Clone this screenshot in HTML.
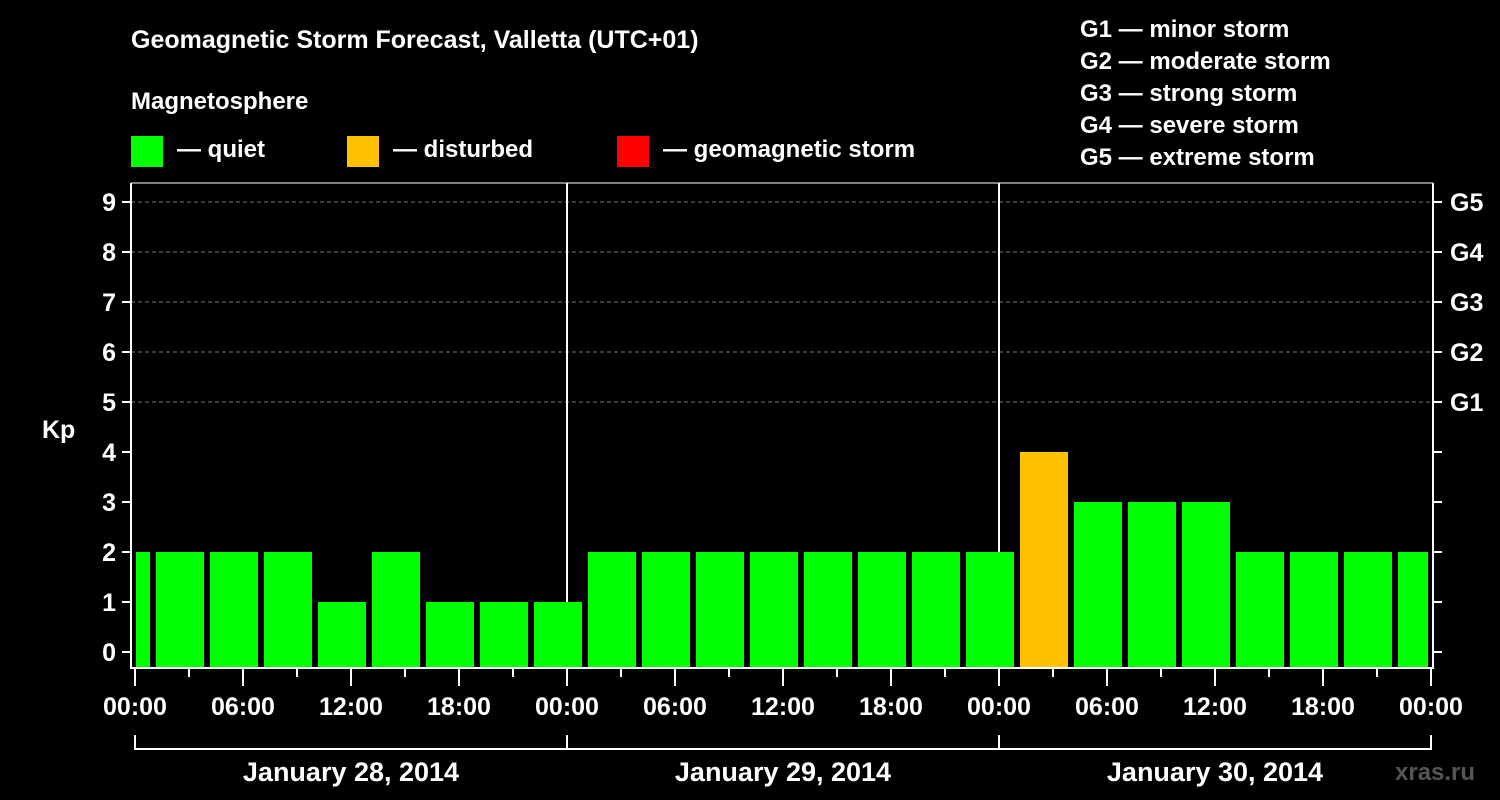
<!DOCTYPE html>
<html><head><meta charset="utf-8"><style>
html,body{margin:0;padding:0;background:#000;}
svg{display:block;font-family:"Liberation Sans",sans-serif;font-weight:bold;}
</style></head><body>
<svg id="chart" width="1500" height="800" viewBox="0 0 1500 800">
<rect width="1500" height="800" fill="#000"/>
<text x="131" y="48" fill="#fff" font-size="25">Geomagnetic Storm Forecast, Valletta (UTC+01)</text>
<text x="131" y="109" fill="#fff" font-size="24">Magnetosphere</text>
<g><rect x="131" y="136" width="32" height="31" fill="#00ff00"/><text x="177" y="157" fill="#fff" font-size="24">— quiet</text></g>
<g><rect x="347" y="136" width="32" height="31" fill="#ffc000"/><text x="393" y="157" fill="#fff" font-size="24">— disturbed</text></g>
<g><rect x="617" y="136" width="32" height="31" fill="#ff0000"/><text x="663" y="157" fill="#fff" font-size="24">— geomagnetic storm</text></g>
<g fill="#fff" font-size="24">
<text x="1080" y="37">G1 — minor storm</text>
<text x="1080" y="69">G2 — moderate storm</text>
<text x="1080" y="101">G3 — strong storm</text>
<text x="1080" y="133">G4 — severe storm</text>
<text x="1080" y="165">G5 — extreme storm</text>
</g>
<text x="42" y="438" fill="#fff" font-size="25">Kp</text>
<text x="1395" y="780" fill="#555" font-size="24">xras.ru</text>
<g id="grid"></g><g id="bars"></g><g id="axes"></g>
</svg>
<script>
const dayLabels = ["January 28, 2014","January 29, 2014","January 30, 2014"];
const kpValues = [2,2,2,2,1,2,1,1,1,2,2,2,2,2,2,2,2,4,3,3,3,2,2,2,2];
const barHours = [-0.5,2.5,5.5,8.5,11.5,14.5,17.5,20.5,23.5,26.5,29.5,32.5,35.5,38.5,41.5,44.5,47.5,50.5,53.5,56.5,59.5,62.5,65.5,68.5,71.5];
const yTicks = [0,1,2,3,4,5,6,7,8,9];
const gLabels = ["","","","","","G1","G2","G3","G4","G5"];
const xTickLabels = ["00:00","06:00","12:00","18:00","00:00","06:00","12:00","18:00","00:00","06:00","12:00","18:00","00:00"];
const NS="http://www.w3.org/2000/svg";
const X0=135, PXH=18, Y0=652, PXK=50, LEFT=131, RIGHT=1433, TOP=183, BOT=668;
const xs=h=>X0+h*PXH, ys=k=>Y0-k*PXK;
function mk(tag,attrs,parent){const e=document.createElementNS(NS,tag);for(const k in attrs)e.setAttribute(k,attrs[k]);parent.appendChild(e);return e;}
const grid=document.getElementById('grid'),bars=document.getElementById('bars'),axes=document.getElementById('axes');
const color=v=>v>=5?"#ff0000":(v>=4?"#ffc000":"#00ff00");
yTicks.forEach((k,i)=>{
  const y=ys(k);
  if(k>=5){const l=mk('line',{x1:LEFT,x2:RIGHT,y1:y,y2:y,stroke:'#777','stroke-dasharray':'4,3','stroke-width':1},grid);
  
  }
  const t=mk('text',{x:116,y:y+9,fill:'#fff','font-size':25,'text-anchor':'end'},axes);t.textContent=k;
  
  
  mk('line',{x1:122,x2:LEFT,y1:y,y2:y,stroke:'#fff','stroke-width':2},axes);
  mk('line',{x1:RIGHT,x2:1442,y1:y,y2:y,stroke:'#fff','stroke-width':2},axes);
  if(gLabels[i]){const g=mk('text',{x:1450,y:y+9,fill:'#fff','font-size':25},axes);g.textContent=gLabels[i];
  
  }
});
[1,2].forEach(d=>{const l=mk('line',{x1:xs(24*d),x2:xs(24*d),y1:TOP,y2:BOT,stroke:'#fff','stroke-width':2},grid);
  
  });
const clipL=136, clipR=1428;
kpValues.forEach((v,i)=>{
  const c=xs(barHours[i]);let x1=c-24,x2=c+24;x1=Math.max(x1,clipL);x2=Math.min(x2,clipR);
  const r=mk('rect',{x:x1,y:ys(v),width:x2-x1,height:667-ys(v),fill:color(v)},bars);
  
  
});
mk('polyline',{points:`${LEFT},${TOP} ${LEFT},${BOT} ${RIGHT},${BOT} ${RIGHT},${TOP}`,fill:'none',stroke:'#fff','stroke-width':2},axes);
mk('line',{x1:LEFT,x2:RIGHT,y1:TOP,y2:TOP,stroke:'#fff','stroke-width':1},axes);
for(let h=0;h<=72;h+=3){
  const x=xs(h),major=h%6===0;
  mk('line',{x1:x,x2:x,y1:BOT,y2:major?686:677,stroke:'#fff','stroke-width':2},axes);
}
xTickLabels.forEach((s,i)=>{const t=mk('text',{x:xs(i*6),y:715,fill:'#fff','font-size':25,'text-anchor':'middle'},axes);t.textContent=s;
  
  });
mk('line',{x1:xs(0),x2:xs(72),y1:749,y2:749,stroke:'#fff','stroke-width':2},axes);
for(let d=0;d<=3;d++)mk('line',{x1:xs(24*d),x2:xs(24*d),y1:735,y2:750,stroke:'#fff','stroke-width':2},axes);
dayLabels.forEach((s,d)=>{const t=mk('text',{x:xs(24*d+12),y:781,fill:'#fff','font-size':27,'text-anchor':'middle'},axes);t.textContent=s;
  
  });
</script>
</body></html>
